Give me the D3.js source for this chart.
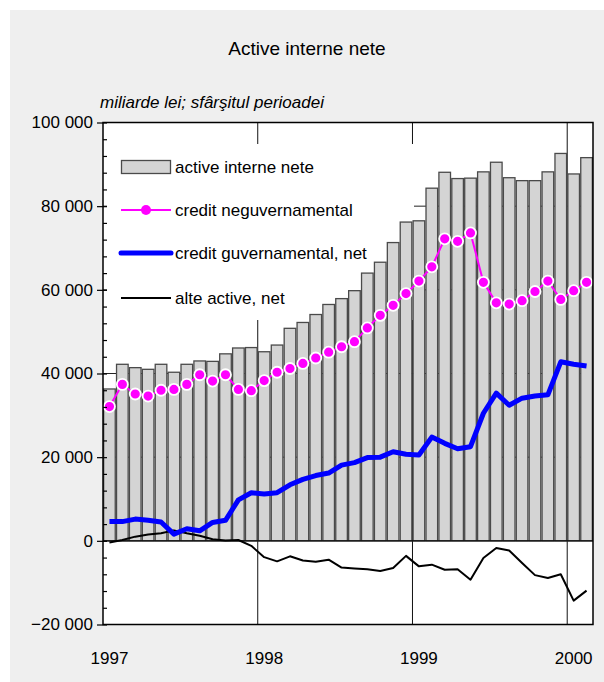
<!DOCTYPE html>
<html><head><meta charset="utf-8">
<script src="https://cdn.jsdelivr.net/npm/d3@7"></script>
<style>
body{margin:0;background:#fff}
svg{display:block}
text{font-family:"Liberation Sans",Arial,Helvetica,sans-serif;fill:#000}
</style>
</head><body>
<svg id="c" width="604" height="682"></svg>
<script>
const months = ["1997-01","1997-02","1997-03","1997-04","1997-05","1997-06","1997-07","1997-08","1997-09","1997-10","1997-11","1997-12",
"1998-01","1998-02","1998-03","1998-04","1998-05","1998-06","1998-07","1998-08","1998-09","1998-10","1998-11","1998-12",
"1999-01","1999-02","1999-03","1999-04","1999-05","1999-06","1999-07","1999-08","1999-09","1999-10","1999-11","1999-12",
"2000-01","2000-02"];
const activeInterne = [36300,42200,41400,41000,42200,40300,42200,43000,42900,44700,46100,46200,
45200,46800,50800,52200,54100,56500,57900,59800,64000,66600,71300,76200,
76500,84300,88100,86600,86700,88200,90500,86800,86100,86100,88200,92600,
87700,91600];
const creditNeguv = [32100,37400,35100,34600,36000,36200,37400,39700,38200,39700,36200,35900,
38300,40300,41200,42400,43700,45100,46400,47600,50900,53900,56300,59100,
62100,65500,72200,71600,73600,61800,56900,56600,57400,59600,62100,57700,
59800,61800];
const creditGuv = [4600,4600,5200,4900,4500,1600,2900,2400,4400,4900,9800,11500,
11200,11500,13400,14700,15600,16200,18100,18700,19900,20000,21300,20700,
20500,24800,23300,22000,22500,30500,35300,32400,34100,34600,34900,42800,
42200,41800];
const alteActive = [-400,200,1000,1500,1800,2500,1800,1200,400,100,200,-1200,
-3900,-4900,-3700,-4700,-5000,-4500,-6400,-6600,-6800,-7200,-6500,-3600,
-6100,-5700,-6900,-6800,-9300,-4100,-1700,-2300,-5300,-8200,-8900,-8000,
-14300,-11900];
const yTicks = [-20000,0,20000,40000,60000,80000,100000];
const yearLabels = ["1997","1998","1999","2000"];
const legendLabels = ["active interne nete","credit neguvernamental","credit guvernamental, net","alte active, net"];
const titleText = "Active interne nete";
const subtitleText = "miliarde lei; sfârşitul perioadei";

const svg = d3.select("#c");
const L = 103, R = 593, T = 122.5, B = 624.5;
const x = d3.scaleBand(months, [L, R]).paddingInner(0.1).paddingOuter(0.05);
const y = d3.scaleLinear([-20000, 100000], [B, T]);
const cx = m => x(m) + x.bandwidth() / 2;
const step = x.step();
const boundary = m => L + months.indexOf(m) * step;

const loc = d3.formatLocale({decimal: ",", thousands: " ", grouping: [3], currency: ["", ""], minus: "\u2212"});
const fmt = loc.format(",d");

// panel
svg.append("rect").attr("x", 10).attr("y", 10).attr("width", 594).attr("height", 672).attr("fill", "#efefef");
// plot bg
svg.append("rect").attr("x", L).attr("y", T).attr("width", R - L).attr("height", B - T).attr("fill", "#fff");

// title & subtitle
svg.append("text").attr("x", 307).attr("y", 55).attr("text-anchor", "middle").attr("font-size", 19).text(titleText);
svg.append("text").attr("x", 100).attr("y", 108).attr("font-size", 17).attr("font-style", "italic").text(subtitleText);

// gridlines
const g = svg.append("g");
g.selectAll("line.h").data(yTicks.filter(v => v > -20000 && v < 100000)).join("line")
  .attr("x1", L).attr("x2", R).attr("y1", d => y(d)).attr("y2", d => y(d))
  .attr("stroke", "#222").attr("stroke-width", 1);
g.selectAll("line.v").data(yearLabels.slice(1).map(yr => yr + "-01")).join("line")
  .attr("x1", d => boundary(d)).attr("x2", d => boundary(d)).attr("y1", T).attr("y2", B)
  .attr("stroke", "#111").attr("stroke-width", 1);

// legend background box
svg.append("rect").attr("x", 107).attr("y", 144).attr("width", 307).attr("height", 176).attr("fill", "#fff");

// bars
svg.append("g").selectAll("rect").data(months).join("rect")
  .attr("x", d => x(d)).attr("width", x.bandwidth())
  .attr("y", (d, i) => y(activeInterne[i])).attr("height", (d, i) => y(0) - y(activeInterne[i]))
  .attr("fill", "#d4d4d4").attr("stroke", "#4a4a4a").attr("stroke-width", 1.3);

// zero line
svg.append("line").attr("x1", L).attr("x2", R).attr("y1", y(0)).attr("y2", y(0)).attr("stroke", "#000").attr("stroke-width", 1);

const line = vals => d3.line().x((d, i) => cx(months[i])).y(d => y(d))(vals);
svg.append("path").attr("d", line(alteActive)).attr("fill", "none").attr("stroke", "#000").attr("stroke-width", 2).attr("stroke-linejoin", "round");
svg.append("path").attr("d", line(creditGuv)).attr("fill", "none").attr("stroke", "#0000ff").attr("stroke-width", 5).attr("stroke-linejoin", "round");
svg.append("path").attr("d", line(creditNeguv)).attr("fill", "none").attr("stroke", "#ff00ff").attr("stroke-width", 2);
svg.append("g").selectAll("circle").data(creditNeguv).join("circle")
  .attr("cx", (d, i) => cx(months[i])).attr("cy", d => y(d)).attr("r", 5.5)
  .attr("fill", "#ff00ff").attr("stroke", "#fff").attr("stroke-width", 1.8);

// frame
svg.append("rect").attr("x", L).attr("y", T).attr("width", R - L).attr("height", B - T)
  .attr("fill", "none").attr("stroke", "#000").attr("stroke-width", 1.5);

// y axis
const minor = d3.range(-20000, 100001, 4000);
const ax = svg.append("g").attr("transform", `translate(${L},0)`)
  .call(d3.axisLeft(y).tickValues(yTicks).tickSize(6).tickPadding(4).tickFormat(fmt));
ax.select(".domain").remove();
ax.selectAll("text").attr("font-size", 17).attr("font-family", null).attr("fill", "#000");
ax.selectAll("line").attr("stroke", "#000").attr("stroke-width", 1.2);
const axm = svg.append("g").attr("transform", `translate(${L},0)`)
  .call(d3.axisRight(y).tickValues(minor).tickSize(4).tickFormat(""));
axm.select(".domain").remove();
axm.selectAll("line").attr("stroke", "#000").attr("stroke-width", 1.2);

// x labels
svg.append("g").selectAll("text").data(yearLabels).join("text")
  .attr("x", d => cx(d + "-01")).attr("y", 664).attr("text-anchor", "middle").attr("font-size", 17)
  .text(d => d);

// legend
const ly = [167, 210, 253, 298];
const lg = svg.append("g");
lg.append("rect").attr("x", 121.5).attr("y", 160.5).attr("width", 49).attr("height", 13)
  .attr("fill", "#d4d4d4").attr("stroke", "#4a4a4a").attr("stroke-width", 1.3);
lg.append("line").attr("x1", 121).attr("x2", 171).attr("y1", ly[1]).attr("y2", ly[1]).attr("stroke", "#ff00ff").attr("stroke-width", 2);
lg.append("circle").attr("cx", 146).attr("cy", ly[1]).attr("r", 5).attr("fill", "#ff00ff");
lg.append("line").attr("x1", 121).attr("x2", 171).attr("y1", ly[2]).attr("y2", ly[2]).attr("stroke", "#0000ff").attr("stroke-width", 5).attr("stroke-linecap", "round");
lg.append("line").attr("x1", 121).attr("x2", 171).attr("y1", ly[3]).attr("y2", ly[3]).attr("stroke", "#000").attr("stroke-width", 2);
lg.selectAll("text").data(legendLabels).join("text")
  .attr("x", 175).attr("y", (d, i) => ly[i] + 6).attr("font-size", 17).text(d => d);
</script>
</body></html>
